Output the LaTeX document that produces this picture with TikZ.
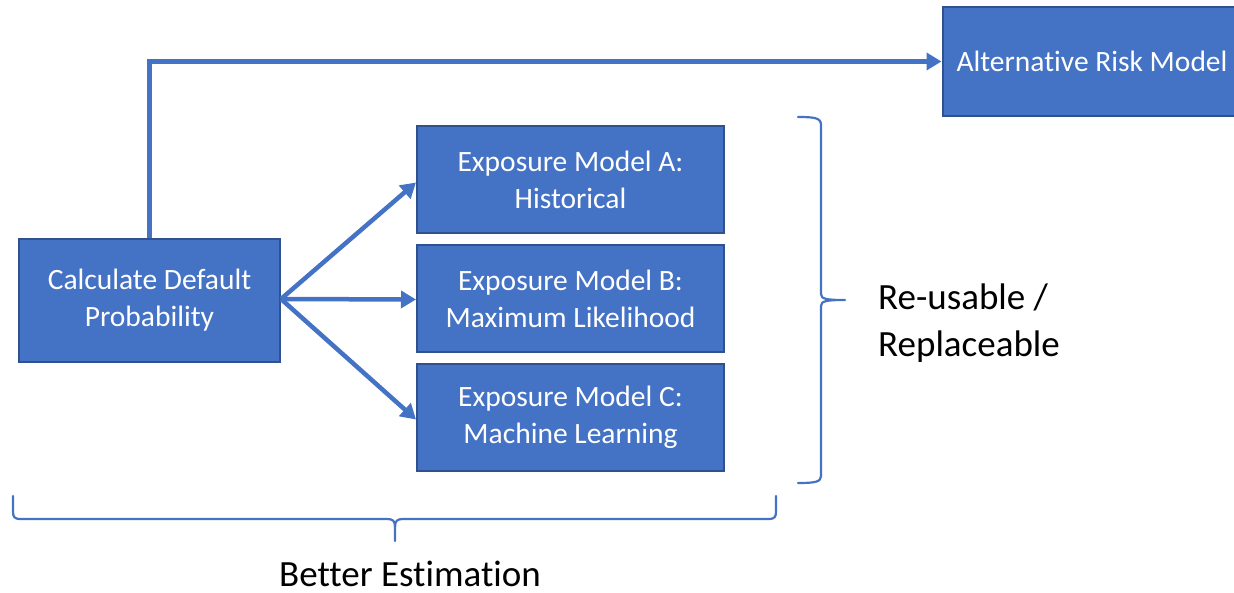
\documentclass[tikz,border=0pt]{standalone}
\usepackage{fontspec}
\setmainfont{Carlito}[Ligatures=NoCommon]
\usetikzlibrary{arrows.meta}
\definecolor{boxfill}{HTML}{4472C4}
\definecolor{boxedge}{HTML}{2F528F}
\begin{document}
\begin{tikzpicture}[x=1pt,y=-1pt,
  modelbox/.style={draw=boxedge,line width=2pt,fill=boxfill,text=white,inner sep=0pt,
    align=center,font=\fontsize{29.5}{37}\selectfont},
  conn/.style={draw=boxfill,line width=4.5pt,-{Triangle[length=15pt,width=17pt]}},
  bracepath/.style={draw=boxfill,line width=2.2pt,line cap=round,line join=round},
  bigtext/.style={font=\fontsize{37}{47}\selectfont,inner sep=0pt}]
\useasboundingbox (0,0) rectangle (1234,593);
\node[modelbox,minimum width=261pt,minimum height=123pt] (calc) at (149.5,300.5) {Calculate Default\\Probability};
\node[modelbox,minimum width=299pt,minimum height=109pt] (alt) at (1092,61.5) {Alternative Risk Model};
\node[modelbox,minimum width=307pt,minimum height=107pt] (expA) at (570.5,179.5) {Exposure Model A:\\Historical};
\node[modelbox,minimum width=307pt,minimum height=107pt] (expB) at (570.5,298.5) {Exposure Model B:\\Maximum Likelihood};
\node[modelbox,minimum width=307pt,minimum height=107pt] (expC) at (570.5,417.5) {Exposure Model C:\\Machine Learning};
\coordinate (fork) at (281,299);
\draw[conn] (calc.north) |- (alt.west);
\draw[conn] (fork) -- ([yshift=-3pt]expA.west);
\draw[conn] (fork) -- ([yshift=-1pt]expB.west);
\draw[conn] (fork) -- ([yshift=-2pt]expC.west);
% right brace
\draw[bracepath] (798,117) .. controls (815,117) and (821,118) .. (821,125) -- (821,294)
  .. controls (821,299) and (826,300) .. (845,300)
  .. controls (826,300) and (821,301) .. (821,306) -- (821,476)
  .. controls (821,482) and (815,483) .. (798,483);
% bottom brace
\draw[bracepath] (13,496) -- (13,511) .. controls (13,517) and (14,519) .. (21,519) -- (387,519)
  .. controls (393,519) and (395,521) .. (395,527) -- (395,541);
\draw[bracepath] (395,527) .. controls (395,521) and (397,519) .. (403,519) -- (768,519)
  .. controls (775,519) and (776,517) .. (776,511) -- (776,496);
\node[bigtext,anchor=west,align=left] (reuse) at (878,323.5) {Re-usable /\\Replaceable};
\node[bigtext] (better) at (410,574) {Better Estimation};
\end{tikzpicture}
\end{document}
